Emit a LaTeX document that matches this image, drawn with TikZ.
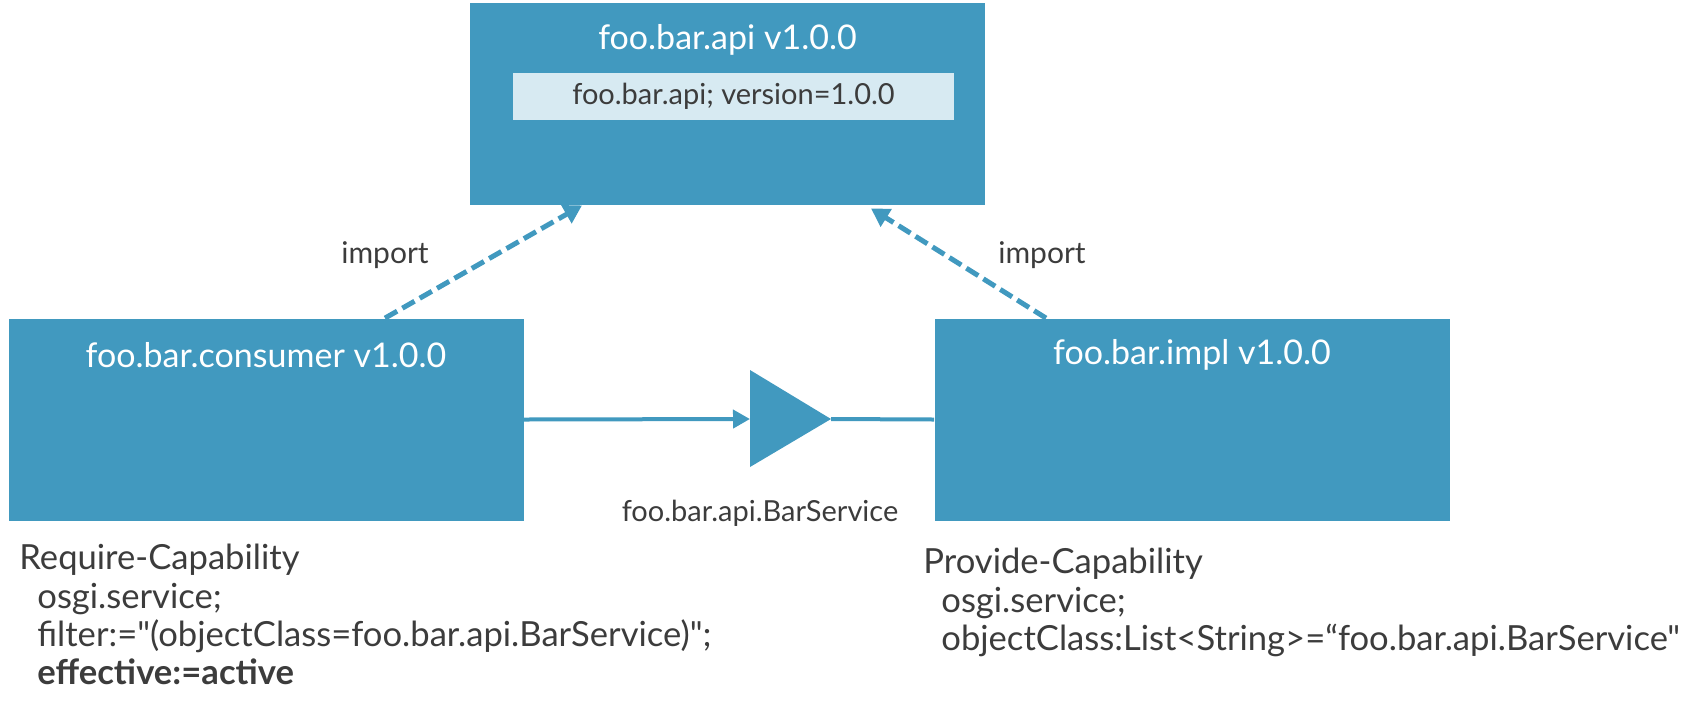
\documentclass[tikz,border=0pt]{standalone}
\usepackage{fontspec}
\setmainfont{Lato}[Ligatures=TeXOff]
\usetikzlibrary{arrows.meta,positioning}
\definecolor{bndblue}{RGB}{65,153,191}
\definecolor{bndpale}{RGB}{215,234,242}
\definecolor{txtgray}{RGB}{60,60,60}

\begin{document}
\begin{tikzpicture}[
  x=0.5pt, y=-0.5pt,
  bundle/.style={
    fill=bndblue, inner sep=0pt,
    minimum width=257.5pt, minimum height=101pt
  },
  btitle/.style={text=white, inner sep=0pt, font=\fontsize{17}{20}\selectfont},
  pkg/.style={
    fill=bndpale, text=txtgray, inner sep=0pt,
    minimum width=220.5pt, minimum height=23.5pt,
    font=\fontsize{14.5}{17}\selectfont
  },
  lbl/.style={text=txtgray, inner sep=0pt, font=\fontsize{14.5}{17}\selectfont},
  hdr/.style={
    text=txtgray, inner sep=0pt, align=left, anchor=north west,
    font=\fontsize{17.3}{19.1}\selectfont
  },
  imp/.style={
    draw=bndblue, line width=2.5pt, dash pattern=on 7pt off 3pt,
    -{Triangle[length=9pt,width=10pt]}
  },
  wire/.style={draw=bndblue, line width=2pt}
]
  \useasboundingbox (0,0) rectangle (1691,708);

  % bundles
  \node[bundle] (api) at (727.5,104){};
  \node[bundle] (cons) at (266,419.5){};
  \node[bundle] (impl) at (1192,419.5){};
  \node[btitle] (apiname) at (727.5,40){foo.bar.api v1.0.0};
  \node[btitle] (consname) at (266,355){foo.bar.consumer v1.0.0};
  \node[btitle] (implname) at (1192,355){foo.bar.impl v1.0.0};
  \node[pkg] (exp) at (733.5,96.5){foo.bar.api; version=1.0.0};

  % imports
  \draw[imp] ([xshift=59.5pt]cons.north) -- ([xshift=-72.75pt]api.south);
  \draw[imp] ([xshift=-73pt]impl.north) -- ([xshift=71.75pt,yshift=-1.5pt]api.south);
  \node[lbl, font=\fontsize{15}{17}\selectfont] (impl1) at (385,255){import};
  \node[lbl, font=\fontsize{15}{17}\selectfont] (impl2) at (1042,255){import};

  % service
  \coordinate (triin) at (750,419);
  \coordinate (triout) at (831,419);
  \fill[bndblue] (750,370) -- (triout) -- (750,467) -- cycle;
  \draw[wire, -{Triangle[length=8.5pt,width=9pt]}] (cons.east) -- (triin);
  \draw[wire] (triout) -- (impl.west);
  \node[lbl] (svc) at (760,513){foo.bar.api.BarService};

  % capabilities
  \node[hdr] (req) at (19,544){Require-Capability\\
    \hspace*{9pt}osgi.service;\\
    \hspace*{9pt}filter:="(objectClass=foo.bar.api.BarService)";\\
    \hspace*{9pt}\textbf{effective:=active}};
  \node[hdr] (prov) at (923,548){Provide-Capability\\
    \hspace*{9pt}osgi.service;\\
    \hspace*{9pt}objectClass:List<String>=“foo.bar.api.BarService"};
\end{tikzpicture}
\end{document}
